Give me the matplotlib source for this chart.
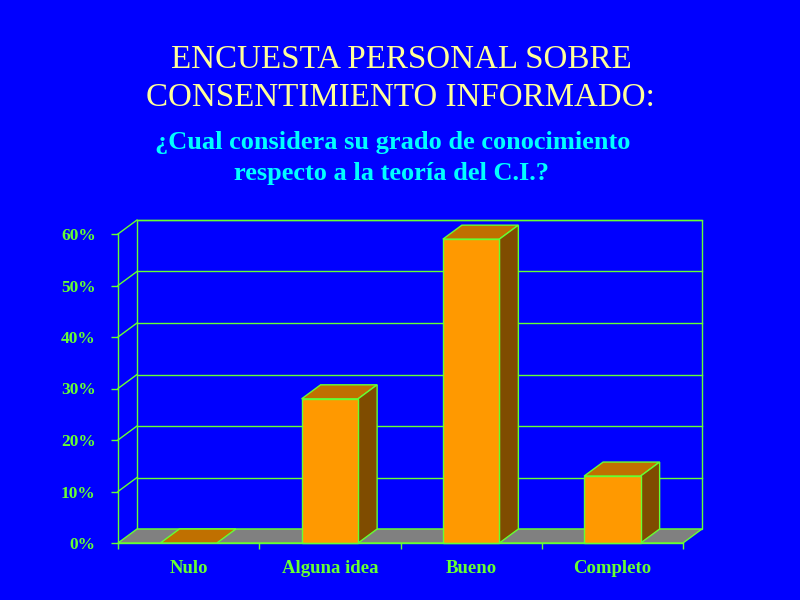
import numpy as np
import matplotlib
matplotlib.use("Agg")
import matplotlib.pyplot as plt
from matplotlib.patches import Polygon, Rectangle

# Survey data (percent of respondents)
categories = ["Nulo", "Alguna idea", "Bueno", "Completo"]
values = [0, 28, 59, 13]
y_ticks = [0, 10, 20, 30, 40, 50, 60]
y_tick_labels = ["0%", "10%", "20%", "30%", "40%", "50%", "60%"]

title_lines = ["ENCUESTA PERSONAL SOBRE", "CONSENTIMIENTO INFORMADO:"]
subtitle_lines = ["¿Cual considera su grado de conocimiento",
                  "respecto a la teoría del C.I.?"]

BG = "#0000FF"
GREEN = "#66FF33"
FRONT = "#FF9900"
TOP = "#C07000"
SIDE = "#7F4C00"
FLOOR = "#808080"

plt.rcParams['font.family'] = ['Liberation Serif', 'DejaVu Serif']

W, H = 800, 600
fig = plt.figure(figsize=(8, 6), dpi=100, facecolor=BG)

# front plane of the 3D box, in pixels
left, right, bottom, top = 118, 683, 543, 234
ax = fig.add_axes([left / W, (H - bottom) / H, (right - left) / W, (bottom - top) / H])
ax.set_facecolor("none")
n = len(categories)
ax.set_xlim(-0.5, n - 0.5)
ax.set_ylim(0, 60)

# depth of the box, converted from pixels to data units
depth_px_x, depth_px_y = 19, 14
dx = depth_px_x / ((right - left) / n)
dy = depth_px_y / ((bottom - top) / 60)

x0, x1 = -0.5, n - 0.5

# back wall with gridlines, and left wall diagonals
ax.add_patch(Rectangle((x0 + dx, dy), x1 - x0, 60, facecolor="none",
                       edgecolor=GREEN, lw=1, clip_on=False, zorder=1))
for v in y_ticks[1:]:
    ax.plot([x0 + dx, x1 + dx], [v + dy, v + dy], color=GREEN, lw=1,
            clip_on=False, zorder=1)
    ax.plot([x0, x0 + dx], [v, v + dy], color=GREEN, lw=1, clip_on=False, zorder=1)

# floor
ax.add_patch(Polygon([(x0, 0), (x1, 0), (x1 + dx, dy), (x0 + dx, dy)],
                     closed=True, facecolor=FLOOR, edgecolor=GREEN, lw=1,
                     clip_on=False, zorder=2))

# bars
bw = 0.4
for i, v in enumerate(values):
    a, b = i - bw / 2, i + bw / 2
    ax.add_patch(Polygon([(a, v), (b, v), (b + dx, v + dy), (a + dx, v + dy)],
                         closed=True, facecolor=TOP, edgecolor=GREEN, lw=1,
                         clip_on=False, zorder=3))
    if v > 0:
        ax.add_patch(Polygon([(b, 0), (b + dx, dy), (b + dx, v + dy), (b, v)],
                             closed=True, facecolor=SIDE, edgecolor=GREEN, lw=1,
                             clip_on=False, zorder=3))
        ax.add_patch(Rectangle((a, 0), bw, v, facecolor=FRONT, edgecolor=GREEN,
                               lw=1, clip_on=False, zorder=4))

# axes: front left edge and front floor edge
for s in ["top", "right"]:
    ax.spines[s].set_visible(False)
for s in ["left", "bottom"]:
    ax.spines[s].set_color(GREEN)
    ax.spines[s].set_linewidth(1)
    ax.spines[s].set_zorder(5)

ax.set_yticks(y_ticks)
ax.set_yticklabels(y_tick_labels)
ax.set_xticks(np.arange(n + 1) - 0.5)
ax.set_xticklabels([])
ax.set_xticks(np.arange(n), minor=True)
ax.set_xticklabels(categories, minor=True)
ax.tick_params(axis="y", colors=GREEN, length=5, width=1, pad=11, labelsize=12.5)
ax.tick_params(axis="x", which="major", colors=GREEN, length=4, width=1)
ax.tick_params(axis="x", which="minor", colors=GREEN, length=0, pad=12, labelsize=13.5)
for lbl in ax.get_yticklabels() + ax.get_xticklabels(minor=True):
    lbl.set_fontweight("bold")
    lbl.set_color(GREEN)

# titles, one text per line, placed by baseline
for line, xc, yb in zip(title_lines, [401, 400], [68, 106]):
    fig.text(xc / W, 1 - yb / H, line, ha="center", va="baseline",
             color="#FFFF99", fontsize=23.8)
for line, xc, yb in zip(subtitle_lines, [393, 392], [149, 180]):
    fig.text(xc / W, 1 - yb / H, line, ha="center", va="baseline",
             color="#00FFFF", fontsize=19, fontweight="bold")

fig.savefig("out.png", dpi=100, facecolor=BG)
